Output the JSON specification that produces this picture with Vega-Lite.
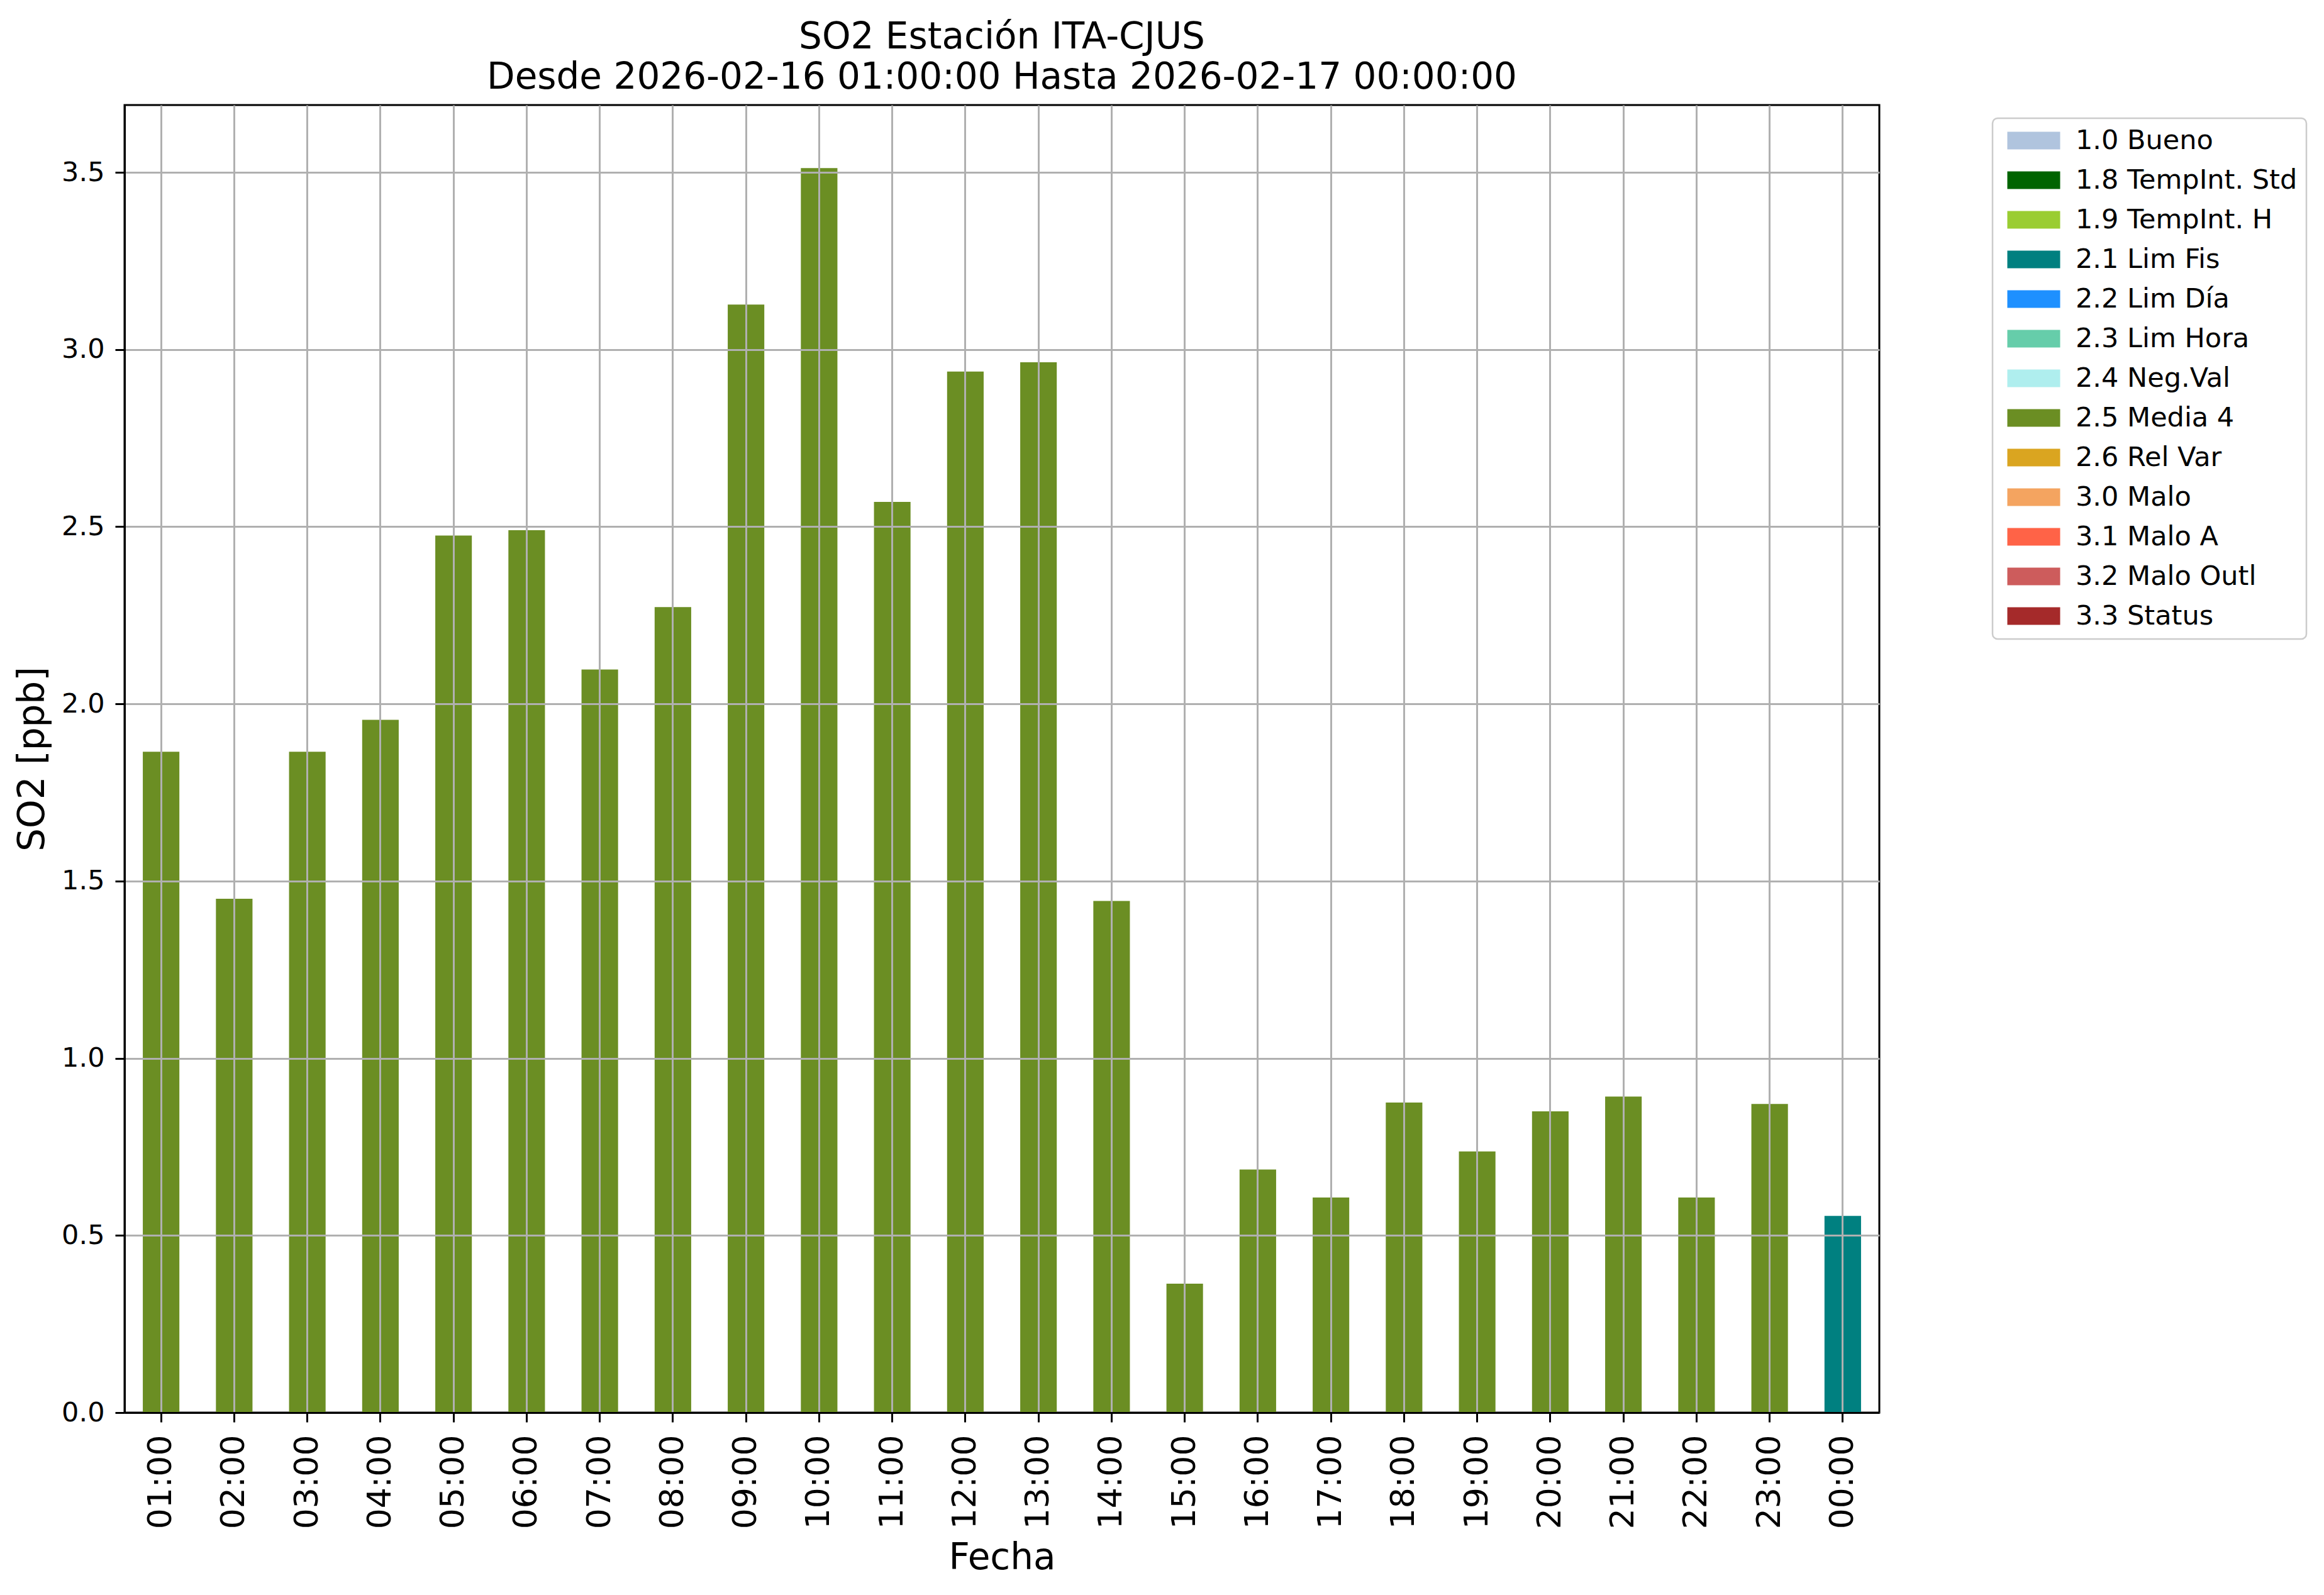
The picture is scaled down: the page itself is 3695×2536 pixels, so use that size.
{
  "$schema": "https://vega.github.io/schema/vega-lite/v6.json",
  "autosize": {"type": "none"},
  "padding": {"left": 198, "top": 167, "right": 707, "bottom": 290},
  "width": 2790,
  "height": 2079,
  "background": "white",
  "config": {
    "font": "DejaVu Sans",
    "view": {"stroke": "black", "strokeWidth": 3},
    "legend": {
      "strokeColor": "#cccccc",
      "strokeWidth": 2.5,
      "cornerRadius": 8,
      "fillColor": "white",
      "padding": 14
    }
  },
  "title": {
    "text": ["SO2 Estación ITA-CJUS", "Desde 2026-02-16 01:00:00 Hasta 2026-02-17 00:00:00"],
    "font": "DejaVu Sans",
    "fontSize": 58,
    "fontWeight": "normal",
    "color": "black",
    "anchor": "middle",
    "lineHeight": 64,
    "offset": 14
  },
  "data": {
    "values": [
      {"hora": "01:00", "so2": 1.865, "flag": "2.5 Media 4"},
      {"hora": "02:00", "so2": 1.45, "flag": "2.5 Media 4"},
      {"hora": "03:00", "so2": 1.865, "flag": "2.5 Media 4"},
      {"hora": "04:00", "so2": 1.955, "flag": "2.5 Media 4"},
      {"hora": "05:00", "so2": 2.475, "flag": "2.5 Media 4"},
      {"hora": "06:00", "so2": 2.49, "flag": "2.5 Media 4"},
      {"hora": "07:00", "so2": 2.097, "flag": "2.5 Media 4"},
      {"hora": "08:00", "so2": 2.273, "flag": "2.5 Media 4"},
      {"hora": "09:00", "so2": 3.127, "flag": "2.5 Media 4"},
      {"hora": "10:00", "so2": 3.512, "flag": "2.5 Media 4"},
      {"hora": "11:00", "so2": 2.57, "flag": "2.5 Media 4"},
      {"hora": "12:00", "so2": 2.938, "flag": "2.5 Media 4"},
      {"hora": "13:00", "so2": 2.964, "flag": "2.5 Media 4"},
      {"hora": "14:00", "so2": 1.444, "flag": "2.5 Media 4"},
      {"hora": "15:00", "so2": 0.364, "flag": "2.5 Media 4"},
      {"hora": "16:00", "so2": 0.686, "flag": "2.5 Media 4"},
      {"hora": "17:00", "so2": 0.607, "flag": "2.5 Media 4"},
      {"hora": "18:00", "so2": 0.875, "flag": "2.5 Media 4"},
      {"hora": "19:00", "so2": 0.737, "flag": "2.5 Media 4"},
      {"hora": "20:00", "so2": 0.85, "flag": "2.5 Media 4"},
      {"hora": "21:00", "so2": 0.892, "flag": "2.5 Media 4"},
      {"hora": "22:00", "so2": 0.607, "flag": "2.5 Media 4"},
      {"hora": "23:00", "so2": 0.871, "flag": "2.5 Media 4"},
      {"hora": "00:00", "so2": 0.555, "flag": "2.1 Lim Fis"}
    ]
  },
  "mark": {"type": "bar"},
  "encoding": {
    "x": {
      "field": "hora",
      "type": "nominal",
      "sort": null,
      "scale": {"paddingInner": 0.5, "paddingOuter": 0.25},
      "axis": {
        "title": "Fecha",
        "titleFontSize": 58,
        "titleFontWeight": "normal",
        "titleColor": "black",
        "titlePadding": 18,
        "labelAngle": 270,
        "labelFontSize": 52,
        "labelColor": "black",
        "labelPadding": 20,
        "tickSize": 15,
        "tickWidth": 3,
        "tickColor": "black",
        "domainColor": "black",
        "domainWidth": 3,
        "grid": true,
        "gridColor": "#b0b0b0",
        "gridWidth": 3,
        "bandPosition": 0.5,
        "zindex": 1
      }
    },
    "y": {
      "field": "so2",
      "type": "quantitative",
      "scale": {"domain": [0, 3.69], "nice": false},
      "axis": {
        "title": "SO2 [ppb]",
        "titleFontSize": 58,
        "titleFontWeight": "normal",
        "titleColor": "black",
        "titlePadding": 16,
        "values": [0, 0.5, 1, 1.5, 2, 2.5, 3, 3.5],
        "format": ".1f",
        "labelFontSize": 43,
        "labelColor": "black",
        "labelPadding": 17,
        "tickSize": 15,
        "tickWidth": 3,
        "tickColor": "black",
        "domainColor": "black",
        "domainWidth": 3,
        "grid": true,
        "gridColor": "#b0b0b0",
        "gridWidth": 3,
        "zindex": 1
      }
    },
    "color": {
      "field": "flag",
      "type": "nominal",
      "scale": {
        "domain": ["1.0 Bueno", "1.8 TempInt. Std", "1.9 TempInt. H", "2.1 Lim Fis", "2.2 Lim Día", "2.3 Lim Hora", "2.4 Neg.Val", "2.5 Media 4", "2.6 Rel Var", "3.0 Malo", "3.1 Malo A", "3.2 Malo Outl", "3.3 Status"],
        "range": ["#B0C4DE", "#006400", "#9ACD32", "#008080", "#1E90FF", "#66CDAA", "#AFEEEE", "#6B8E23", "#DAA520", "#F4A460", "#FF6347", "#CD5C5C", "#A52A2A"]
      },
      "legend": {
        "title": null,
        "orient": "none",
        "legendX": 2970,
        "legendY": 21,
        "labelFontSize": 43,
        "labelColor": "black",
        "labelLimit": 1000,
        "symbolType": "M-3,-1H3V1H-3Z",
        "symbolSize": 784,
        "symbolOffset": 30,
        "symbolStrokeWidth": 0,
        "symbolOpacity": 1,
        "labelOffset": 45,
        "rowPadding": 19
      }
    }
  }
}
